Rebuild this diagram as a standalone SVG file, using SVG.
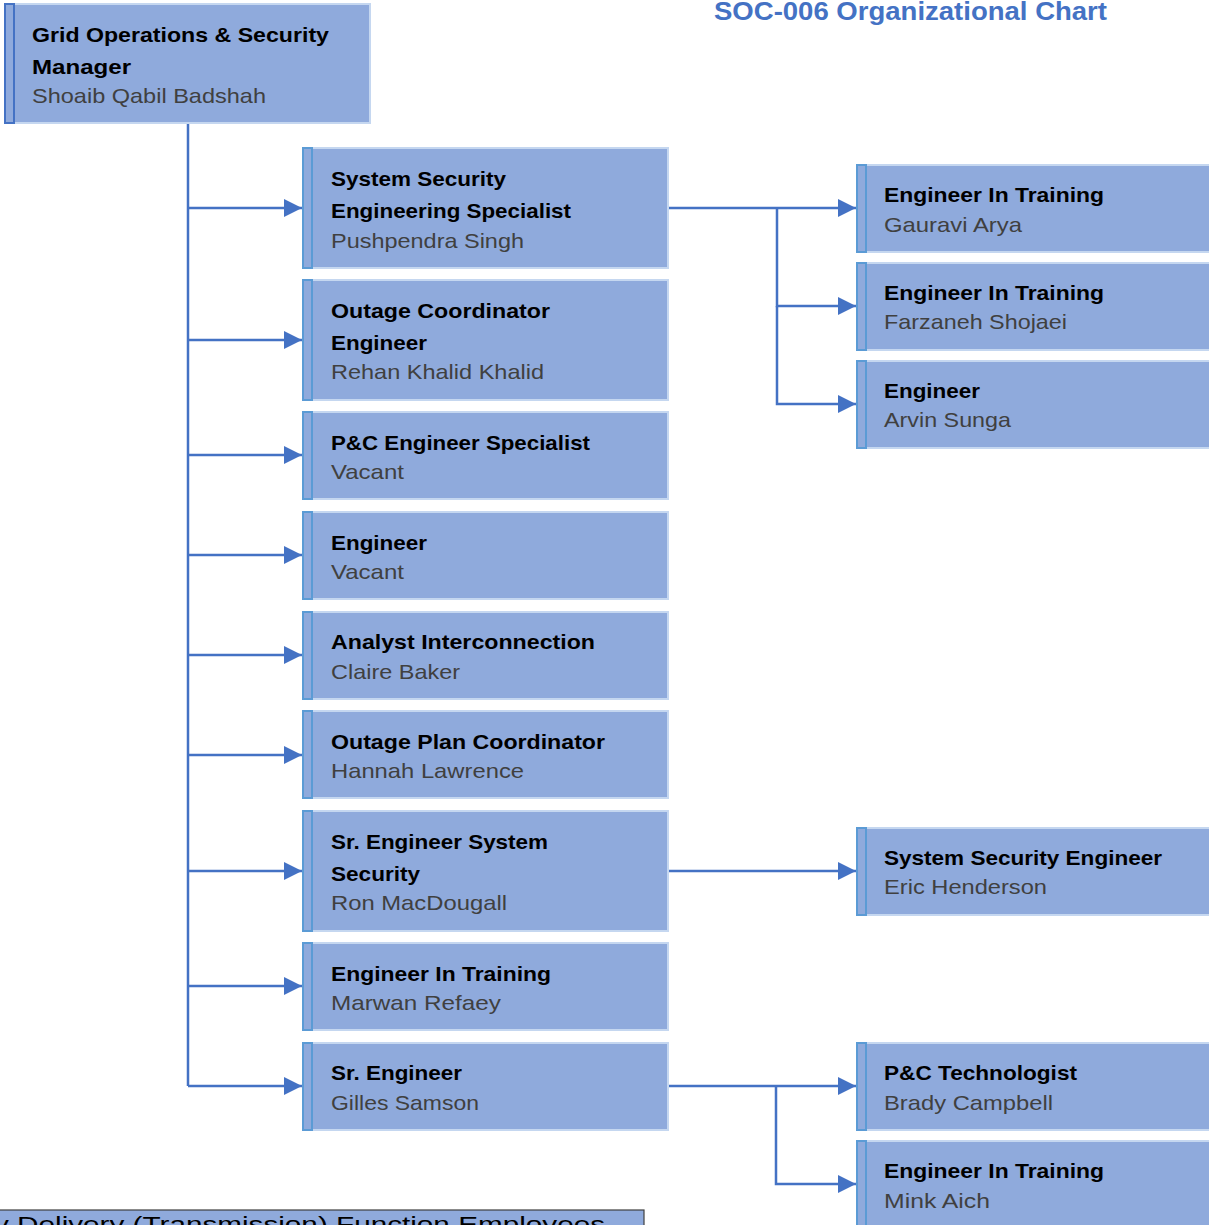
<svg xmlns="http://www.w3.org/2000/svg" width="1209" height="1225" viewBox="0 0 1209 1225">
<style>
.box{fill:#8faadc;stroke:#c5d7f0;stroke-width:2}
.bar{fill:#8faadc;stroke:#5b9bd5;stroke-width:2}
.bartop{fill:#8faadc;stroke:#4472c4;stroke-width:2}
.t{font-family:"Liberation Sans",Arial,sans-serif;font-size:21px;font-weight:bold;fill:#000}
.n{font-family:"Liberation Sans",Arial,sans-serif;font-size:21px;fill:#404040}
.title{font-family:"Liberation Sans",Arial,sans-serif;font-size:26px;font-weight:bold;fill:#4472c4}
.c{fill:none;stroke:#4472c4;stroke-width:2.5}
</style>
<defs>
<marker id="ah" markerUnits="userSpaceOnUse" markerWidth="18" markerHeight="18" refX="18" refY="9" orient="auto">
<path d="M0,0 L18,9 L0,18 z" fill="#4472c4"/>
</marker>
</defs>
<rect width="1209" height="1225" fill="#fff"/>
<text class="title" x="714" y="20" textLength="393" lengthAdjust="spacingAndGlyphs">SOC-006 Organizational Chart</text>

<g id="connectors">
<path class="c" d="M188,123 V1086"/>
<path class="c" d="M188,208 H302" marker-end="url(#ah)"/>
<path class="c" d="M188,340 H302" marker-end="url(#ah)"/>
<path class="c" d="M188,455 H302" marker-end="url(#ah)"/>
<path class="c" d="M188,555 H302" marker-end="url(#ah)"/>
<path class="c" d="M188,655 H302" marker-end="url(#ah)"/>
<path class="c" d="M188,755 H302" marker-end="url(#ah)"/>
<path class="c" d="M188,871 H302" marker-end="url(#ah)"/>
<path class="c" d="M188,986 H302" marker-end="url(#ah)"/>
<path class="c" d="M188,1086 H302" marker-end="url(#ah)"/>
<path class="c" d="M668,208 H856" marker-end="url(#ah)"/>
<path class="c" d="M777,208 V306 H856" marker-end="url(#ah)"/>
<path class="c" d="M777,306 V404 H856" marker-end="url(#ah)"/>
<path class="c" d="M668,871 H856" marker-end="url(#ah)"/>
<path class="c" d="M668,1086 H856" marker-end="url(#ah)"/>
<path class="c" d="M776,1086 V1184 H856" marker-end="url(#ah)"/>
</g>

<g id="n-manager">
<rect class="box" x="5" y="4" width="365" height="119"/>
<rect class="bartop" x="5" y="4" width="9" height="119"/>
<text class="t" x="32" y="42" textLength="297" lengthAdjust="spacingAndGlyphs">Grid Operations &amp; Security</text>
<text class="t" x="32" y="74" textLength="99" lengthAdjust="spacingAndGlyphs">Manager</text>
<text class="n" x="32" y="103" textLength="234" lengthAdjust="spacingAndGlyphs">Shoaib Qabil Badshah</text>
</g>

<g id="n-sses">
<rect class="box" x="303" y="148" width="365" height="120"/>
<rect class="bar" x="303" y="148" width="9" height="120"/>
<text class="t" x="331" y="186" textLength="175" lengthAdjust="spacingAndGlyphs">System Security</text>
<text class="t" x="331" y="218" textLength="240" lengthAdjust="spacingAndGlyphs">Engineering Specialist</text>
<text class="n" x="331" y="248" textLength="193" lengthAdjust="spacingAndGlyphs">Pushpendra Singh</text>
</g>

<g id="n-oce">
<rect class="box" x="303" y="280" width="365" height="120"/>
<rect class="bar" x="303" y="280" width="9" height="120"/>
<text class="t" x="331" y="318" textLength="219" lengthAdjust="spacingAndGlyphs">Outage Coordinator</text>
<text class="t" x="331" y="350" textLength="96" lengthAdjust="spacingAndGlyphs">Engineer</text>
<text class="n" x="331" y="379" textLength="213" lengthAdjust="spacingAndGlyphs">Rehan Khalid Khalid</text>
</g>

<g id="n-pces">
<rect class="box" x="303" y="412" width="365" height="87"/>
<rect class="bar" x="303" y="412" width="9" height="87"/>
<text class="t" x="331" y="450" textLength="259" lengthAdjust="spacingAndGlyphs">P&amp;C Engineer Specialist</text>
<text class="n" x="331" y="479" textLength="73" lengthAdjust="spacingAndGlyphs">Vacant</text>
</g>

<g id="n-eng">
<rect class="box" x="303" y="512" width="365" height="87"/>
<rect class="bar" x="303" y="512" width="9" height="87"/>
<text class="t" x="331" y="550" textLength="96" lengthAdjust="spacingAndGlyphs">Engineer</text>
<text class="n" x="331" y="579" textLength="73" lengthAdjust="spacingAndGlyphs">Vacant</text>
</g>

<g id="n-ai">
<rect class="box" x="303" y="612" width="365" height="87"/>
<rect class="bar" x="303" y="612" width="9" height="87"/>
<text class="t" x="331" y="649" textLength="264" lengthAdjust="spacingAndGlyphs">Analyst Interconnection</text>
<text class="n" x="331" y="679" textLength="129" lengthAdjust="spacingAndGlyphs">Claire Baker</text>
</g>

<g id="n-opc">
<rect class="box" x="303" y="711" width="365" height="87"/>
<rect class="bar" x="303" y="711" width="9" height="87"/>
<text class="t" x="331" y="749" textLength="274" lengthAdjust="spacingAndGlyphs">Outage Plan Coordinator</text>
<text class="n" x="331" y="778" textLength="193" lengthAdjust="spacingAndGlyphs">Hannah Lawrence</text>
</g>

<g id="n-sess">
<rect class="box" x="303" y="811" width="365" height="120"/>
<rect class="bar" x="303" y="811" width="9" height="120"/>
<text class="t" x="331" y="849" textLength="217" lengthAdjust="spacingAndGlyphs">Sr. Engineer System</text>
<text class="t" x="331" y="881" textLength="89" lengthAdjust="spacingAndGlyphs">Security</text>
<text class="n" x="331" y="910" textLength="176" lengthAdjust="spacingAndGlyphs">Ron MacDougall</text>
</g>

<g id="n-eit-mr">
<rect class="box" x="303" y="943" width="365" height="87"/>
<rect class="bar" x="303" y="943" width="9" height="87"/>
<text class="t" x="331" y="981" textLength="220" lengthAdjust="spacingAndGlyphs">Engineer In Training</text>
<text class="n" x="331" y="1010" textLength="170" lengthAdjust="spacingAndGlyphs">Marwan Refaey</text>
</g>

<g id="n-se">
<rect class="box" x="303" y="1043" width="365" height="87"/>
<rect class="bar" x="303" y="1043" width="9" height="87"/>
<text class="t" x="331" y="1080" textLength="131" lengthAdjust="spacingAndGlyphs">Sr. Engineer</text>
<text class="n" x="331" y="1110" textLength="148" lengthAdjust="spacingAndGlyphs">Gilles Samson</text>
</g>

<g id="n-eit-ga">
<rect class="box" x="857" y="165" width="360" height="87"/>
<rect class="bar" x="857" y="165" width="9" height="87"/>
<text class="t" x="884" y="202" textLength="220" lengthAdjust="spacingAndGlyphs">Engineer In Training</text>
<text class="n" x="884" y="232" textLength="138" lengthAdjust="spacingAndGlyphs">Gauravi Arya</text>
</g>

<g id="n-eit-fs">
<rect class="box" x="857" y="263" width="360" height="87"/>
<rect class="bar" x="857" y="263" width="9" height="87"/>
<text class="t" x="884" y="300" textLength="220" lengthAdjust="spacingAndGlyphs">Engineer In Training</text>
<text class="n" x="884" y="329" textLength="183" lengthAdjust="spacingAndGlyphs">Farzaneh Shojaei</text>
</g>

<g id="n-eng-as">
<rect class="box" x="857" y="361" width="360" height="87"/>
<rect class="bar" x="857" y="361" width="9" height="87"/>
<text class="t" x="884" y="398" textLength="96" lengthAdjust="spacingAndGlyphs">Engineer</text>
<text class="n" x="884" y="427" textLength="127" lengthAdjust="spacingAndGlyphs">Arvin Sunga</text>
</g>

<g id="n-sse">
<rect class="box" x="857" y="828" width="360" height="87"/>
<rect class="bar" x="857" y="828" width="9" height="87"/>
<text class="t" x="884" y="865" textLength="278" lengthAdjust="spacingAndGlyphs">System Security Engineer</text>
<text class="n" x="884" y="894" textLength="163" lengthAdjust="spacingAndGlyphs">Eric Henderson</text>
</g>

<g id="n-pct">
<rect class="box" x="857" y="1043" width="360" height="87"/>
<rect class="bar" x="857" y="1043" width="9" height="87"/>
<text class="t" x="884" y="1080" textLength="193" lengthAdjust="spacingAndGlyphs">P&amp;C Technologist</text>
<text class="n" x="884" y="1110" textLength="169" lengthAdjust="spacingAndGlyphs">Brady Campbell</text>
</g>

<g id="n-eit-ma">
<rect class="box" x="857" y="1141" width="360" height="100"/>
<rect class="bar" x="857" y="1141" width="9" height="100"/>
<text class="t" x="884" y="1178" textLength="220" lengthAdjust="spacingAndGlyphs">Engineer In Training</text>
<text class="n" x="884" y="1208" textLength="106" lengthAdjust="spacingAndGlyphs">Mink Aich</text>
</g>

<g id="n-footer">
<rect x="-2" y="1210" width="646" height="40" fill="#8faadc" stroke="#404040" stroke-width="1.2"/>
<text class="n" style="fill:#000;font-size:22px" x="-6" y="1232" textLength="611" lengthAdjust="spacingAndGlyphs">y Delivery (Transmission) Function Employees</text>
</g>
</svg>
